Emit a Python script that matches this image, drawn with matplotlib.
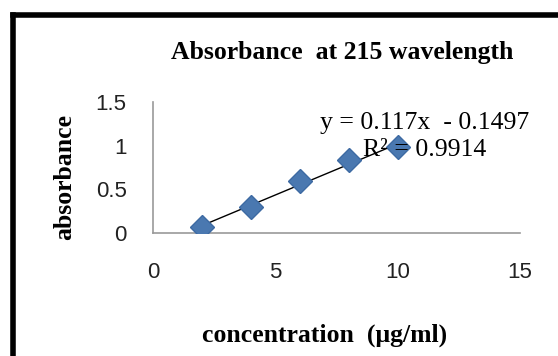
import matplotlib
matplotlib.use('Agg')
import matplotlib.pyplot as plt
from matplotlib.lines import Line2D
import numpy as np

conc = [2, 4, 6, 8, 10]
absorb = [0.07, 0.30, 0.59, 0.84, 0.98]
slope = 0.117
intercept = -0.1497
r2 = 0.9914

fig = plt.figure(figsize=(5.58, 3.56), dpi=100)
W, H = 558, 356
# plot area in pixels: x 153..520, y 102..233
ax = fig.add_axes([153 / W, 1 - 233 / H, (520 - 153) / W, (233 - 102) / H])

# trendline
xf = np.array([conc[0], conc[-1]])
ax.plot(xf, slope * xf + intercept, color='black', linewidth=1.0, zorder=2)
ax.plot(conc, absorb, linestyle='none', marker='D', markersize=12,
        color='#4a78b0', markeredgecolor='#3d6aa3', zorder=3)

ax.set_xlim(0, 15)
ax.set_ylim(0, 1.5)
ax.set_xticks([0, 5, 10, 15])
ax.set_yticks([0, 0.5, 1, 1.5])
ax.set_yticklabels(['0', '0.5', '1', '1.5'])
ax.tick_params(length=0, labelsize=16, colors='#222222')
ax.tick_params(axis='x', pad=21)
ax.tick_params(axis='y', pad=19)
for s in ['top', 'right']:
    ax.spines[s].set_visible(False)
for s in ['left', 'bottom']:
    ax.spines[s].set_color('#999999')
    ax.spines[s].set_linewidth(1.2)
for lab in ax.get_xticklabels() + ax.get_yticklabels():
    lab.set_family(['Liberation Sans', 'DejaVu Sans'])

serif = 'Liberation Serif'
fig.text(342 / W, 1 - 52 / H, 'Absorbance  at 215 wavelength', ha='center', va='center',
         family=serif, fontweight='bold', fontsize=18.5)
fig.text(65 / W, 1 - 177 / H, 'absorbance', rotation=90, ha='center', va='center',
         family=serif, fontweight='bold', fontsize=18.5)
fig.text(325 / W, 1 - 335 / H, 'concentration  (\u03bcg/ml)', ha='center', va='center',
         family=serif, fontweight='bold', fontsize=18.5)
fig.text(425 / W, 1 - 123 / H, 'y = %.3fx  - %.4f' % (slope, -intercept),
         ha='center', va='center', family=serif, fontsize=18.5)
fig.text(425 / W, 1 - 150 / H, 'R\u00b2 = %.4f' % r2,
         ha='center', va='center', family=serif, fontsize=18.5)

# thick frame around the chart
fig.add_artist(Line2D([12.5 / W, 12.5 / W], [0, 1 - 14.5 / H], color='black', linewidth=4,
                      transform=fig.transFigure, solid_capstyle='projecting'))
fig.add_artist(Line2D([12.5 / W, 1], [1 - 14.5 / H, 1 - 14.5 / H], color='black', linewidth=4,
                      transform=fig.transFigure, solid_capstyle='projecting'))

fig.savefig('out.png', dpi=100)
